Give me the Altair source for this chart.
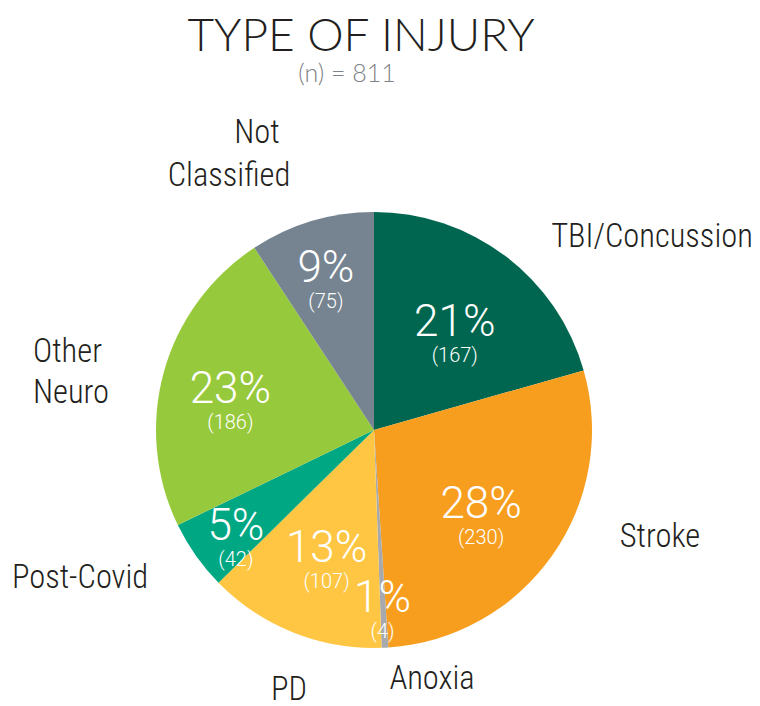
import altair as alt
import pandas as pd

categories = ["TBI/Concussion", "Stroke", "Anoxia", "PD", "Post-Covid", "Other Neuro", "Not Classified"]
counts = [167, 230, 4, 107, 42, 186, 75]
pct_labels = ["21%", "28%", "1%", "13%", "5%", "23%", "9%"]
colors = ["#00664f", "#f79e1f", "#a7a9ac", "#fec643", "#00a783", "#97c93c", "#758490"]
label_lines = ["TBI/Concussion", "Stroke", "Anoxia", "PD", "Post-Covid", "Other", "Neuro", "Not", "Classified"]

# layout (pixels, chart coordinates)
CX, CY, R = 366, 422, 218
inner_r = [134, 131, 169, 128, 169, 149, 168]
label_x = [644, 652, 424, 281, 72, 25, 25, 249, 221]
label_y = [229, 529, 671, 682, 570, 344, 385, 125, 168]
label_align = ["center", "center", "center", "center", "center", "left", "left", "center", "center"]

COND = "'Roboto Condensed', 'Open Sans Condensed', 'DejaVu Sans Condensed', sans-serif"
THIN = "Roboto, sans-serif"

order = list(range(len(categories)))
df = pd.DataFrame({
    "cat": categories, "n": counts, "pct": pct_labels, "ord": order,
    "cnt": [f"({c})" for c in counts], "r": inner_r,
})

color = alt.Color("cat:N", scale=alt.Scale(domain=categories, range=colors), legend=None)

pie = alt.Chart(df).mark_arc(outerRadius=R).encode(
    theta=alt.Theta("n:Q", stack=True),
    order=alt.Order("ord:Q", sort="ascending"),
    color=color, x=alt.value(CX), y=alt.value(CY))

lab = alt.Chart(df).transform_window(
    cum="sum(n)", sort=[alt.SortField("ord")], frame=[None, 0]
).transform_joinaggregate(total="sum(n)").transform_calculate(
    ang="2*PI*(datum.cum - datum.n/2)/datum.total"
).transform_calculate(
    px=f"{CX} + datum.r*sin(datum.ang)",
    py=f"{CY} - datum.r*cos(datum.ang)",
).encode(x=alt.X("px:Q", scale=None), y=alt.Y("py:Q", scale=None))

pct = lab.mark_text(font=THIN, fontSize=44, fontWeight=300, color="white",
                    baseline="middle").encode(text="pct:N")
cnt = lab.mark_text(font=THIN, fontSize=20, fontWeight=300, color="white",
                    baseline="middle", dy=33).encode(text="cnt:N")

lab_df = pd.DataFrame({"t": label_lines, "x": label_x, "y": label_y, "a": label_align})
outer_layers = []
for a in ["center", "left"]:
    outer_layers.append(
        alt.Chart(lab_df[lab_df["a"] == a]).mark_text(
            font=COND, fontSize=32.5, fontWeight=300, color="#231f20",
            baseline="middle", align=a).encode(
            x=alt.X("x:Q", scale=None), y=alt.Y("y:Q", scale=None), text="t:N"))

title_df = pd.DataFrame({"t": ["TYPE OF INJURY", "(n) = 811"], "x": [353, 339], "y": [29, 66]})
title = alt.Chart(title_df.iloc[[0]]).mark_text(font="Lato", fontSize=46, fontWeight=300,
                                                 color="#231f20", baseline="middle").encode(
    x=alt.X("x:Q", scale=None), y=alt.Y("y:Q", scale=None), text="t:N")
sub = alt.Chart(title_df.iloc[[1]]).mark_text(font="Lato", fontSize=25, fontWeight=300,
                                               color="#808285", baseline="middle").encode(
    x=alt.X("x:Q", scale=None), y=alt.Y("y:Q", scale=None), text="t:N")

chart = alt.layer(pie, pct, cnt, *outer_layers, title, sub).properties(
    width=744, height=698, padding=0,
    autosize=alt.AutoSizeParams(type="none"),
).configure(background="white").configure_view(stroke=None)

chart.save("out.html", embed_options={"renderer": "svg", "actions": False})
